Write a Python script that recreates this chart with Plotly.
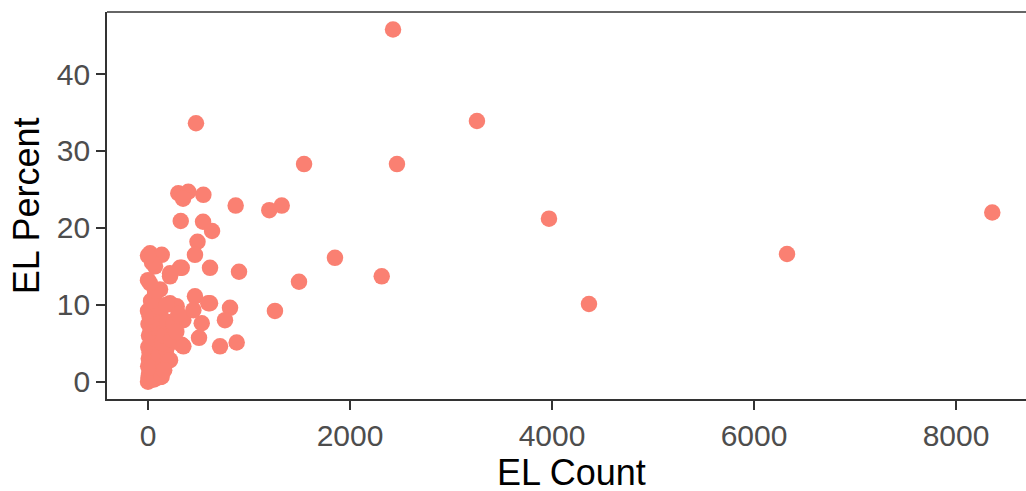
import plotly.graph_objects as go

# EL Count (x) and EL Percent (y)
el_count = [
    2426, 475, 1545, 2465, 3257, 3970, 4366, 6327, 8359, 2314,
    1851, 1495, 1201, 1324, 1257, 868, 901, 878, 812, 762,
    713, 614, 614, 548, 545, 634, 300, 399, 347, 324,
    490, 465, 334, 20, 136, 0, 218, 69, 465, 218,
    532, 505, 350, 334, 20, 250, 185, 449, 284, 119,
    69, 317, 218, 597,
    0, 5, 10, 20, 2, 30, 8, 50, 15, 60,
    3, 40, 80, 10, 25, 70, 5, 100, 45, 15,
    120, 60, 0, 90, 120, 60, 35, 150, 110, 200,
    180, 140, 160, 230, 100, 190, 250, 30, 70, 20,
    40, 0, 185, 350, 250, 218, 135, 280, 300, 160,
]
el_percent = [
    45.8, 33.6, 28.3, 28.3, 33.9, 21.2, 10.1, 16.6, 22.0, 13.7,
    16.1, 13.0, 22.3, 22.9, 9.2, 22.9, 14.3, 5.1, 9.6, 8.0,
    4.6, 10.2, 14.8, 24.3, 20.8, 19.6, 24.5, 24.7, 23.8, 20.9,
    18.2, 16.5, 14.8, 16.7, 16.5, 13.2, 13.7, 11.3, 11.1, 10.2,
    7.6, 5.7, 8.0, 4.8, 9.3, 5.2, 3.0, 9.3, 9.8, 12.0,
    15.0, 14.8, 14.1, 10.2,
    0.0, 0.5, 1.0, 1.5, 2.0, 2.5, 3.0, 3.2, 3.8, 4.0,
    4.5, 5.0, 5.5, 6.0, 6.5, 7.0, 7.5, 7.2, 8.0, 8.5,
    8.8, 9.5, 9.2, 1.2, 0.6, 0.3, 1.8, 2.2, 3.5, 3.0,
    4.2, 5.0, 6.0, 5.5, 9.8, 7.8, 7.6, 10.5, 11.8, 12.8,
    15.5, 16.4, 10.0, 4.6, 7.6, 2.8, 0.65, 6.5, 8.8, 1.5,
]

x_ticks = [0, 2000, 4000, 6000, 8000]
y_ticks = [0, 10, 20, 30, 40]

W, H = 1026, 491
ML, MR, MT, MB = 107, 0, 12, 92
pw = W - ML - MR
ph = H - MT - MB

fig = go.Figure(go.Scatter(
    x=el_count, y=el_percent, mode="markers",
    marker=dict(color="#FA8072", size=16.5, line=dict(width=0)),
    hoverinfo="x+y",
))

axis_common = dict(
    showgrid=False, zeroline=False, showline=True, linecolor="#333333",
    linewidth=1.6, ticks="outside", ticklen=9, tickwidth=1.6,
    tickcolor="#333333",
    tickfont=dict(family="Liberation Sans, Arial", size=30, color="#4D4D4D"),
)

fig.update_layout(
    width=W, height=H,
    margin=dict(l=ML, r=MR, t=MT, b=MB, pad=0),
    paper_bgcolor="white", plot_bgcolor="white",
    showlegend=False,
    xaxis=dict(range=[-406, 8693], tickvals=x_ticks,
               ticktext=[str(v) for v in x_ticks], mirror=False,
               **axis_common),
    yaxis=dict(range=[-2.25, 48.07], tickvals=y_ticks,
               ticktext=[str(v) for v in y_ticks], **axis_common),
    shapes=[dict(type="line", xref="paper", yref="paper", x0=0, x1=1,
                 y0=1, y1=1, line=dict(color="#333333", width=1.6))],
    annotations=[
        dict(text="EL Count", xref="paper", yref="paper",
             x=(571.5 - ML) / pw, y=(H - MB - 472.5) / ph,
             xanchor="center", yanchor="middle", showarrow=False,
             font=dict(family="Liberation Sans, Arial", size=36, color="black")),
        dict(text="EL Percent", xref="paper", yref="paper",
             x=(26.7 - ML) / pw, y=0.5, textangle=-90,
             xanchor="center", yanchor="middle", showarrow=False,
             font=dict(family="Liberation Sans, Arial", size=36, color="black")),
    ],
)

fig.write_html(
    "out.html",
    config={"displayModeBar": False},
    post_script="document.body.style.margin='0';document.body.style.padding='0';document.body.style.overflow='hidden';",
)
